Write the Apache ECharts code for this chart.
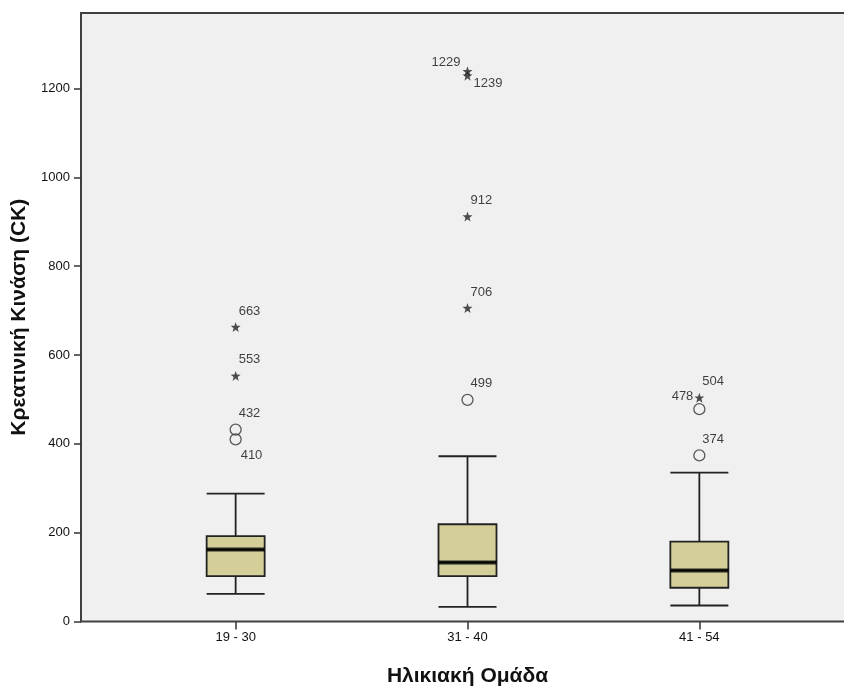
<!DOCTYPE html>
<html>
<head>
<meta charset="utf-8">
<script src="https://cdn.jsdelivr.net/npm/echarts@6/dist/echarts.min.js"></script>
<style>
  html, body { margin: 0; padding: 0; background: #ffffff; }
  #chart { width: 844px; height: 686px; }
</style>
</head>
<body>
<div id="chart"></div>
<script>
// Age groups on the horizontal axis
const categories = ['19 - 30', '31 - 40', '41 - 54'];

// Five-number summaries per group: [lower whisker, Q1, median, Q3, upper whisker]
const boxStats = [
  [62, 102, 162, 192, 288],
  [33, 102, 133, 219, 372],
  [36, 76, 115, 180, 335]
];

// Outlying cases (circles) and extreme cases (stars), with the group index
const outlierGroup = [0, 0, 1, 2, 2];
const outlierValue = [432, 410, 499, 478, 374];
const extremeGroup = [0, 0, 1, 1, 1, 1, 2];
const extremeValue = [663, 553, 1239, 1229, 912, 706, 504];

// Y-axis tick values
const yTicks = [0, 200, 400, 600, 800, 1000, 1200];

const fontFamily = "'Liberation Sans', Arial, sans-serif";

// Label placement for each case label (relative to the marker)
function labelFor(value) {
  let offset = [3, -16], align = 'left';
  if (value === 410) offset = [5, 16];
  if (value === 1229) { offset = [-7, -13]; align = 'right'; }
  if (value === 1239) offset = [6, 12];
  if (value === 478) { offset = [-6, -13]; align = 'right'; }
  return {
    show: true,
    position: 'inside',
    align: align,
    verticalAlign: 'middle',
    offset: offset,
    formatter: String(value),
    color: '#111',
    fontSize: 13,
    fontFamily: fontFamily
  };
}

const boxData = boxStats.map((s, i) => [i].concat(s));
const medianData = boxStats.map((s, i) => [i, s[2]]);
const outlierData = outlierValue.map((v, k) => ({ value: [outlierGroup[k], v], label: labelFor(v) }));
const extremeData = extremeValue.map((v, k) => ({ value: [extremeGroup[k], v], label: labelFor(v) }));

const starPath = 'path://M0,-10 L2.35,-3.24 L9.51,-3.09 L3.8,1.24 L5.88,8.09 L0,4 L-5.88,8.09 L-3.8,1.24 L-9.51,-3.09 L-2.35,-3.24 Z';

const chart = echarts.init(document.getElementById('chart'), null, { renderer: 'canvas' });

chart.setOption({
  animation: false,
  backgroundColor: '#ffffff',
  grid: {
    left: 81,
    top: 13,
    right: -10,
    bottom: 64.5,
    containLabel: false,
    outerBoundsMode: 'none',
    show: true,
    backgroundColor: '#f0f0f0',
    borderColor: '#404040',
    borderWidth: 2
  },
  xAxis: {
    type: 'value',
    min: -0.667,
    max: 2.667,
    splitLine: { show: false },
    axisLine: { show: false, onZero: false },
    axisTick: { show: true, customValues: [0, 1, 2], length: 8, lineStyle: { color: '#333', width: 1.5 } },
    axisLabel: {
      customValues: [0, 1, 2],
      formatter: v => categories[Math.round(v)],
      color: '#111',
      fontSize: 13,
      fontFamily: fontFamily,
      margin: 9
    },
    name: 'Ηλικιακή Ομάδα',
    nameLocation: 'middle',
    nameGap: 44,
    nameTextStyle: { fontSize: 21, fontWeight: 'bold', color: '#111', fontFamily: fontFamily }
  },
  yAxis: {
    type: 'value',
    min: 0,
    max: 1370,
    splitLine: { show: false },
    axisLine: { show: false, onZero: false },
    axisTick: { show: true, customValues: yTicks, length: 7, lineStyle: { color: '#333', width: 1.5 } },
    axisLabel: {
      customValues: yTicks,
      formatter: v => String(v),
      color: '#111',
      fontSize: 13,
      fontFamily: fontFamily,
      margin: 11
    },
    name: 'Κρεατινική Κινάση (CK)',
    nameLocation: 'middle',
    nameGap: 46,
    nameTextStyle: { fontSize: 21, fontWeight: 'bold', color: '#111', fontFamily: fontFamily }
  },
  series: [
    {
      type: 'boxplot',
      data: boxData,
      boxWidth: [58, 58],
      itemStyle: { color: '#d4cf99', borderColor: '#222', borderWidth: 1.8 },
      silent: true
    },
    {
      // Thick median bar across each box
      type: 'scatter',
      data: medianData,
      symbol: 'rect',
      symbolSize: [58, 4],
      itemStyle: { color: '#000' },
      z: 5,
      silent: true
    },
    {
      type: 'scatter',
      data: outlierData,
      symbol: 'circle',
      symbolSize: 11,
      itemStyle: { color: 'rgba(0,0,0,0)', borderColor: '#333', borderWidth: 1.3 },
      silent: true
    },
    {
      type: 'scatter',
      data: extremeData,
      symbol: starPath,
      symbolSize: 10,
      itemStyle: { color: '#222' },
      silent: true
    }
  ]
});
</script>
</body>
</html>
